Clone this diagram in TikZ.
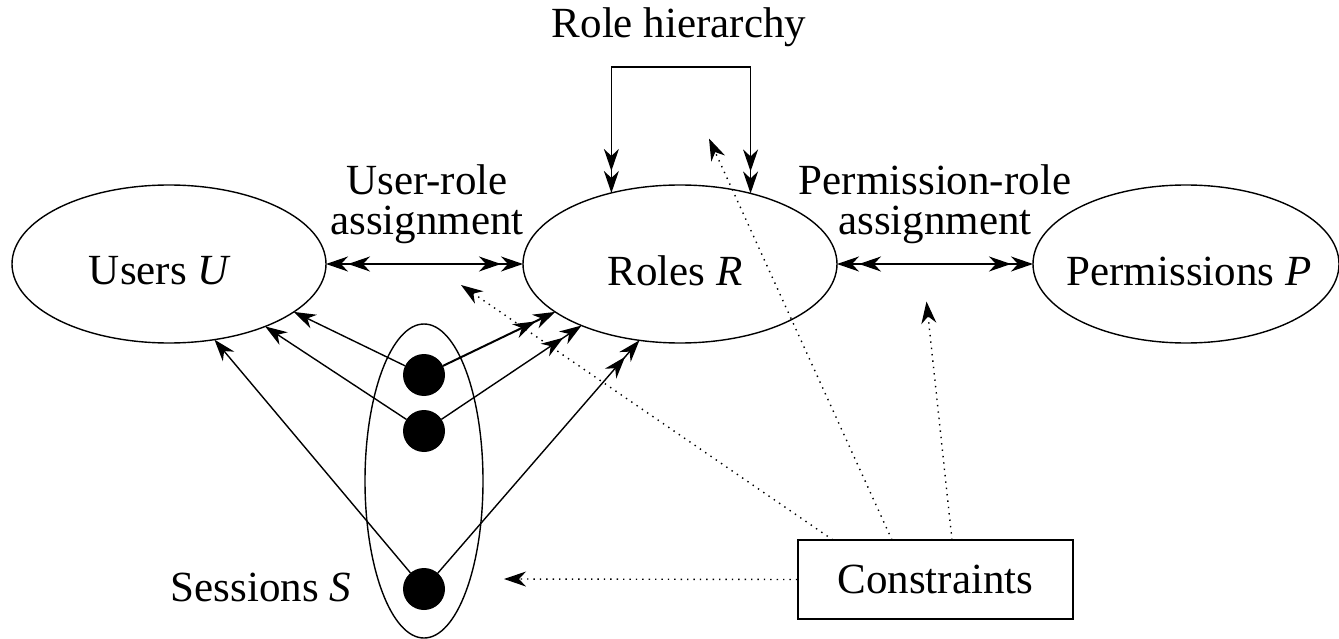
\documentclass[tikz,border=0pt]{standalone}
\usepackage{fontspec}
\IfFontExistsTF{LiberationSerif-Regular.ttf}
  {\setmainfont{LiberationSerif}[Extension=.ttf,UprightFont=*-Regular,ItalicFont=*-Italic,BoldFont=*-Bold,BoldItalicFont=*-BoldItalic]}
  {\setmainfont{Liberation Serif}}
\usetikzlibrary{shapes.geometric,arrows.meta}
\tikzset{
  hd/.tip={Stealth[length=22pt,width=15pt,inset=7pt]},
  ln/.style={line width=1.4pt},
  dotln/.style={line width=1.4pt, dash pattern=on 1.4pt off 5pt},
  ell/.style={ellipse, draw, line width=1.4pt, inner sep=0pt, outer sep=0pt},
  dotn/.style={circle, fill=black, minimum size=42pt, inner sep=0pt, outer sep=0pt},
  txt/.style={inner sep=0pt, font=\fontsize{43}{40}\selectfont}
}
\begin{document}
\begin{tikzpicture}[x=1pt,y=-1pt]
\useasboundingbox[fill=white] (0,0) rectangle (1339,639);
% main sets
\node[ell, minimum width=314pt, minimum height=158pt] (U) at (169,264) {};
\node[ell, minimum width=314pt, minimum height=158pt] (R) at (680,264) {};
\node[ell, minimum width=306pt, minimum height=158pt] (P) at (1186,264) {};
\node[txt] (Ut) at (160,271) {Users \textit{U}};
\node[txt] (Rt) at (675,271) {Roles \textit{R}};
\node[txt] (Pt) at (1189,271) {Permissions \textit{P}};
% labels
\node[txt] (rh) at (679,27.5) {Role hierarchy};
\node[txt, align=center] (ur) at (427,204) {User-role\\assignment};
\node[txt, align=center] (pr) at (935,204) {Permission-role\\assignment};
% sessions
\node[ell, minimum width=118pt, minimum height=314pt] (S) at (424,481) {};
\node[dotn] (s1) at (424,375) {};
\node[dotn] (s2) at (424,431) {};
\node[dotn] (s3) at (424,589) {};
\node[txt] (St) at (261,587) {Sessions \textit{S}};
% constraints
\node[draw, line width=1.6pt, minimum width=275pt, minimum height=79pt, inner sep=0pt, font=\fontsize{43}{40}\selectfont] (C) at (935.5,579.5) {Constraints};
% assignments
\draw[ln, {hd[]hd[]}-{hd[]hd[]}] (U.east) -- (R.west);
\draw[ln, {hd[]hd[]}-{hd[]hd[]}] (R.east) -- (P.west);
% role hierarchy
\coordinate (rhtop) at (680,67);
\draw[ln, -{hd[]hd[]}] (rhtop) -| (R.134.6);
\draw[ln, -{hd[]hd[]}] (rhtop) -| (R.45.4);
% session links
\draw[ln, -{hd[]}] (s1) -- (U.-21);
\draw[ln, -{hd[]}] (s2) -- (U.-33);
\draw[ln, -{hd[]}] (s3) -- (U.-59);
\draw[ln, line width=2pt, -{hd[]hd[]}] (s1) -- (R.201.5);
\draw[ln, -{hd[]hd[]}] (s2) -- (R.212);
\draw[ln, -{hd[]hd[]}] (s3) -- (R.242);
% constraints links
\coordinate (c1) at (833,540);
\coordinate (c2) at (892,540);
\coordinate (c3) at (952,540);
\coordinate (t0) at (504,579);
\coordinate (t1) at (461,285);
\coordinate (t2) at (709,138.5);
\coordinate (t3) at (926.5,301.5);
\draw[dotln, -{hd[]}] (C.west) -- (t0);
\draw[dotln, -{hd[]}] (c1) -- (t1);
\draw[dotln, -{hd[]}] (c2) -- (t2);
\draw[dotln, -{hd[]}] (c3) -- (t3);
\end{tikzpicture}
\end{document}
